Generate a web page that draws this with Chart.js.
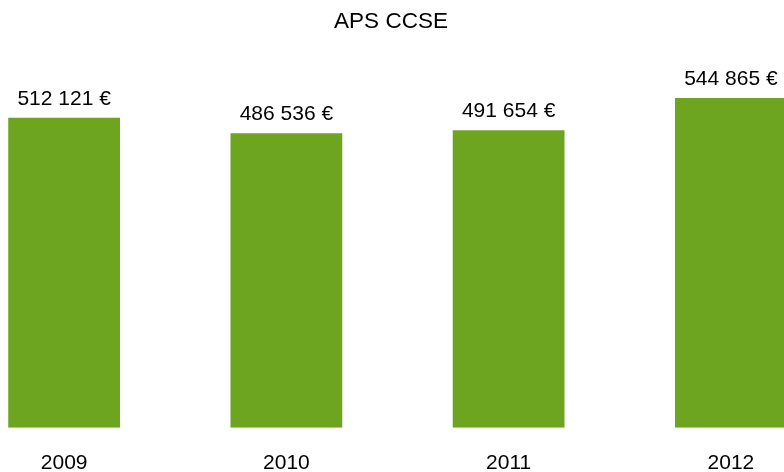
<!DOCTYPE html>
<html>
<head>
<meta charset="utf-8">
<script src="https://cdn.jsdelivr.net/npm/chart.js@4/dist/chart.umd.min.js"></script>
<style>
  html, body { margin: 0; padding: 0; background: #fff; overflow: hidden; width: 784px; height: 472px; }
  /* the plot is wider (and a bit taller) than the window: outer bars and bottom margin are cut */
  #wrap { position: absolute; left: -60px; top: 0; width: 902px; height: 498px; }
</style>
</head>
<body>
<div id="wrap"><canvas id="apsChart"></canvas></div>
<script>
// data
const years = ['2009', '2010', '2011', '2012'];
const amounts = [512121, 486536, 491654, 544865];

const FONT = '"Liberation Sans", Arial, sans-serif';

function formatEuro(v) {
    return String(v).replace(/\B(?=(\d{3})+(?!\d))/g, ' ') + ' €';
}

// value labels above each bar
const valueLabels = {
    id: 'valueLabels',
    afterLayout(chart) {
        // center the title on the whole canvas, not on the padded area
        if (chart.titleBlock) {
            chart.titleBlock.left = 0;
            chart.titleBlock.right = chart.width;
        }
    },
    afterDatasetsDraw(chart) {
        const ctx = chart.ctx;
        const meta = chart.getDatasetMeta(0);
        ctx.save();
        ctx.font = '21px ' + FONT;
        ctx.fillStyle = '#000';
        ctx.textAlign = 'center';
        ctx.textBaseline = 'alphabetic';
        meta.data.forEach((bar, i) => {
            ctx.fillText(formatEuro(amounts[i]), bar.x, bar.y - 13);
        });
        ctx.restore();
    }
};

const ctx = document.getElementById('apsChart').getContext('2d');
const chart = new Chart(ctx, {
    type: 'bar',
    data: {
        labels: years,
        datasets: [{
            label: 'APS CCSE',
            data: amounts,
            backgroundColor: '#6ea520',
            borderWidth: 0,
            barPercentage: 0.503,
            categoryPercentage: 1.0
        }]
    },
    options: {
        responsive: true,
        maintainAspectRatio: false,
        animation: false,
        layout: { padding: { left: 13, right: 0, top: 0, bottom: 0 } },
        scales: {
            x: {
                grid: { display: false, drawTicks: false },
                border: { display: false },
                ticks: { color: '#000', font: { family: FONT, size: 21 }, padding: 22.5 }
            },
            y: {
                display: false,
                min: 0,
                max: 601000
            }
        },
        plugins: {
            legend: { display: false },
            tooltip: { enabled: false },
            title: {
                display: true,
                text: 'APS CCSE',
                color: '#000',
                font: { family: FONT, size: 22.5, weight: 'normal' },
                padding: { top: 8, bottom: 29 }
            }
        }
    },
    plugins: [valueLabels]
});
</script>
</body>
</html>
